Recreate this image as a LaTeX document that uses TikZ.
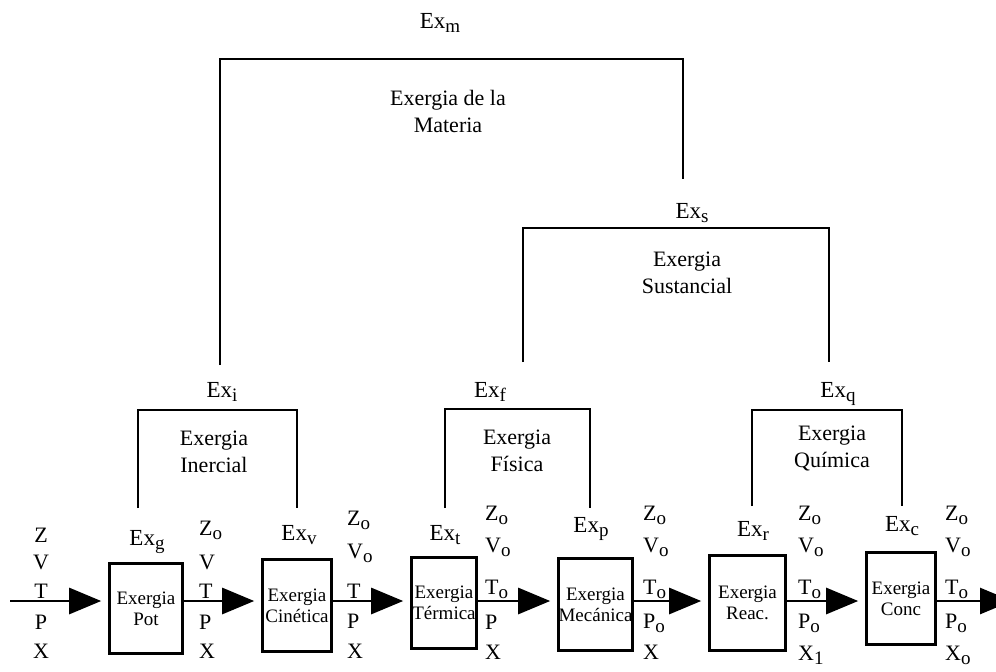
\documentclass[tikz,border=0pt]{standalone}
\usepackage{fontspec}
\setmainfont{Liberation Serif}
\usetikzlibrary{arrows.meta}
\newcommand\sbs[1]{\raisebox{-0.2em}{\fontsize{19}{19}\selectfont #1}}
\begin{document}
\begin{tikzpicture}[x=1pt,y=-1pt,
  font=\fontsize{22}{27}\selectfont,
  lbl/.style={inner sep=0pt, anchor=base},
  exl/.style={inner sep=0pt, anchor=base, font=\fontsize{23}{27}\selectfont},
  clbl/.style={inner sep=0pt, anchor=base west},
  ttl/.style={inner sep=0pt, align=center},
  bx/.style={draw, line width=2.6pt, inner sep=0pt, align=center,
             font=\fontsize{19}{21}\selectfont},
  brk/.style={line width=2.3pt},
  arr/.style={line width=2.8pt, -{Triangle[length=32pt,width=26pt]}, shorten >=7pt}]
\useasboundingbox (0,0) rectangle (996,672);

% ---- top level: Exergia de la Materia
\node[exl] (exm) at (440,28) {Ex\sbs{m}};
\node[ttl] (tm) at (448,111) {Exergia de la\\Materia};
\coordinate (m-l) at (220,365);
\coordinate (m-r) at (683,179);
\coordinate (m-bar) at (0,59);
\draw[brk] (m-l) -- (m-l |- m-bar) -- (m-r |- m-bar) -- (m-r);

% ---- Exergia Sustancial
\node[exl] (exs) at (692,218) {Ex\sbs{s}};
\node[ttl] (ts) at (687,273) {Exergia\\Sustancial};
\coordinate (s-l) at (523,362);
\coordinate (s-r) at (829,362);
\coordinate (s-bar) at (0,228);
\draw[brk] (s-l) -- (s-l |- s-bar) -- (s-r |- s-bar) -- (s-r);

% ---- second level
\node[exl] (exi) at (222,397) {Ex\sbs{i}};
\node[ttl] (ti) at (214,452) {Exergia\\Inercial};
\coordinate (i-l) at (138,508);
\coordinate (i-r) at (297,508);
\coordinate (i-bar) at (0,410);
\draw[brk] (i-l) -- (i-l |- i-bar) -- (i-r |- i-bar) -- (i-r);

\node[exl] (exf) at (490,397) {Ex\sbs{f}};
\node[ttl] (tf) at (517,451) {Exergia\\F\'isica};
\coordinate (f-l) at (445,508);
\coordinate (f-r) at (590,508);
\coordinate (f-bar) at (0,409);
\draw[brk] (f-l) -- (f-l |- f-bar) -- (f-r |- f-bar) -- (f-r);

\node[exl] (exq) at (838,397) {Ex\sbs{q}};
\node[ttl] (tq) at (832,448) {Exergia\\Qu\'imica};
\coordinate (q-l) at (752,506);
\coordinate (q-r) at (902,506);
\coordinate (q-bar) at (0,410);
\draw[brk] (q-l) -- (q-l |- q-bar) -- (q-r |- q-bar) -- (q-r);

% ---- boxes
\node[bx, minimum width=73pt, minimum height=90pt] (b1) at (146,608.5) {Exergia\\Pot};
\node[bx, minimum width=69pt, minimum height=92pt] (b2) at (297,605.5) {Exergia\\Cin\'etica};
\node[bx, minimum width=65pt, minimum height=91pt] (b3) at (444,603) {Exergia\\T\'ermica};
\node[bx, minimum width=74pt, minimum height=92pt] (b4) at (595.5,604.5) {Exergia\\Mec\'anica};
\node[bx, minimum width=76pt, minimum height=95pt] (b5) at (747.5,603) {Exergia\\Reac.};
\node[bx, minimum width=69pt, minimum height=92pt] (b6) at (901,598.5) {Exergia\\Conc};

% ---- labels above boxes
\node[exl] (exg) at (147,545) {Ex\sbs{g}};
\node[exl] (exv) at (299,540) {Ex\sbs{v}};
\node[exl] (ext) at (445,540) {Ex\sbs{t}};
\node[exl] (exp) at (591,532) {Ex\sbs{p}};
\node[exl] (exr) at (753,536) {Ex\sbs{r}};
\node[exl] (exc) at (902,531) {Ex\sbs{c}};

% ---- state columns
\foreach \t/\y [count=\i] in {Z/542, V/569, T/598, P/629, X/658}
  \node[lbl] (c1-\i) at (41,\y) {\t};
\foreach \t/\y [count=\i] in {Z\sbs{o}/535, V/569, T/598, P/629, X/658}
  \node[clbl] (c2-\i) at (199,\y) {\t};
\foreach \t/\y [count=\i] in {Z\sbs{o}/525, V\sbs{o}/558, T/598, P/628, X/658}
  \node[clbl] (c3-\i) at (347,\y) {\t};
\foreach \t/\y [count=\i] in {Z\sbs{o}/520, V\sbs{o}/552, T\sbs{o}/594, P/629, X/659}
  \node[clbl] (c4-\i) at (485,\y) {\t};
\foreach \t/\y [count=\i] in {Z\sbs{o}/520, V\sbs{o}/552, T\sbs{o}/594, P\sbs{o}/628, X/659}
  \node[clbl] (c5-\i) at (643,\y) {\t};
\foreach \t/\y [count=\i] in {Z\sbs{o}/520, V\sbs{o}/552, T\sbs{o}/594, P\sbs{o}/628, X\sbs{1}/660}
  \node[clbl] (c6-\i) at (798,\y) {\t};
\foreach \t/\y [count=\i] in {Z\sbs{o}/520, V\sbs{o}/552, T\sbs{o}/594, P\sbs{o}/628, X\sbs{o}/660}
  \node[clbl] (c7-\i) at (945,\y) {\t};

% ---- flow arrows
\coordinate (ay) at (0,601);
\coordinate (in) at (10,601);
\coordinate (out) at (1012,601);
\draw[arr] (in) -- (b1.west |- ay);
\draw[arr] (b1.east |- ay) -- (b2.west |- ay);
\draw[arr] (b2.east |- ay) -- (b3.west |- ay);
\draw[arr] (b3.east |- ay) -- (b4.west |- ay);
\draw[arr] (b4.east |- ay) -- (b5.west |- ay);
\draw[arr] (b5.east |- ay) -- (b6.west |- ay);
\draw[arr, shorten >=0pt] (b6.east |- ay) -- (out);
\end{tikzpicture}
\end{document}
